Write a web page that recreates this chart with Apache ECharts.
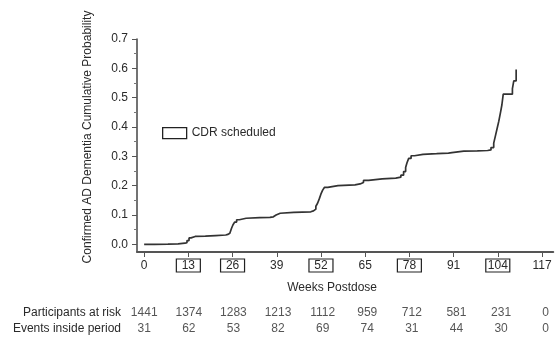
<!DOCTYPE html>
<html>
<head>
<meta charset="utf-8">
<script src="https://cdn.jsdelivr.net/npm/echarts@6/dist/echarts.min.js"></script>
<style>
html,body{margin:0;padding:0;background:#fff;}
#chart{width:557px;height:339px;}
</style>
</head>
<body>
<div id="chart"></div>
<script>
const weekTicks = [0, 13, 26, 39, 52, 65, 78, 91, 104, 117];
const scheduledWeeks = [13, 26, 52, 78, 104];
const probTicks = [0, 0.1, 0.2, 0.3, 0.4, 0.5, 0.6, 0.7];
const probMinorTicks = [0.05, 0.15, 0.25, 0.35, 0.45, 0.55, 0.65];
const riskRows = ['Participants at risk', 'Events inside period'];
const atRisk = [1441, 1374, 1283, 1213, 1112, 959, 712, 581, 231, 0];
const eventsInPeriod = [31, 62, 53, 82, 69, 74, 31, 44, 30, 0];

const curveWeeks = [0, 3, 7, 10, 12, 12.6, 13.2, 13.8, 15, 18, 21, 24, 24.6, 25.2, 25.7, 26.1, 26.6, 27.2, 28, 30, 34, 37, 38, 38.8, 40, 44, 49, 49.8, 50.5, 51, 51.5, 52, 52.5, 53, 54, 57, 62, 63.5, 64.5, 66, 70, 74, 75.5, 76.3, 76.9, 77.3, 77.8, 78.5, 79.5, 82, 86, 89.5, 90.5, 94, 98, 101, 102, 102.8, 103.3, 103.8, 104.3, 104.8, 105.2, 105.6, 108.3, 108.7, 109.4];
const curveProb = [0, 0.001, 0.002, 0.004, 0.006, 0.013, 0.022, 0.027, 0.028, 0.030, 0.032, 0.034, 0.038, 0.044, 0.055, 0.066, 0.076, 0.084, 0.089, 0.091, 0.092, 0.094, 0.100, 0.106, 0.109, 0.111, 0.114, 0.120, 0.130, 0.140, 0.155, 0.172, 0.185, 0.194, 0.200, 0.203, 0.206, 0.211, 0.218, 0.223, 0.226, 0.229, 0.236, 0.248, 0.262, 0.278, 0.293, 0.302, 0.307, 0.309, 0.311, 0.313, 0.318, 0.319, 0.320, 0.322, 0.330, 0.345, 0.370, 0.395, 0.420, 0.450, 0.475, 0.512, 0.531, 0.557, 0.596];

const FONT = "'Liberation Sans', Arial, sans-serif";
const TXT = '#2a2a2a';

const chart = echarts.init(document.getElementById('chart'), null, {renderer: 'canvas'});
const curveData = curveWeeks.map((w, i) => [w, curveProb[i]]);
const tableData = weekTicks.map((w, i) => [w, 0, atRisk[i]])
  .concat(weekTicks.map((w, i) => [w, 1, eventsInPeriod[i]]));

chart.setOption({
  animation: false,
  backgroundColor: '#fff',
  textStyle: {fontFamily: FONT, color: TXT},
  legend: {
    left: 162, top: 127, itemWidth: 24, itemHeight: 11, padding: 0,
    textStyle: {fontSize: 12, color: TXT, fontFamily: FONT},
    data: [{name: 'CDR scheduled', icon: 'rect',
      itemStyle: {color: '#fff', borderColor: '#222', borderWidth: 1.3}}]
  },
  grid: [
    {left: 137, right: 0, top: 39, bottom: 87},
    {left: 137, right: 0, top: 305, height: 32}
  ],
  xAxis: [
    {
      gridIndex: 0, type: 'value', min: -2.1, max: 120.3,
      name: 'Weeks Postdose', nameLocation: 'middle', nameGap: 30,
      nameTextStyle: {fontSize: 12, color: TXT, fontFamily: FONT, padding: [0, 26, 0, 0]},
      axisLine: {show: true, onZero: false, lineStyle: {color: '#555', width: 2}},
      axisTick: {show: true, customValues: weekTicks, length: 5, lineStyle: {color: '#555', width: 1}},
      axisLabel: {
        customValues: weekTicks, margin: 7, fontSize: 12, color: TXT, fontFamily: FONT,
        formatter: v => (scheduledWeeks.indexOf(v) >= 0 ? '{b|' + v + '}' : '{a|' + v + '}'),
        rich: {
          a: {fontSize: 12, color: TXT, fontFamily: FONT, width: 24, height: 12, lineHeight: 13, align: 'center', padding: [1, 0, 0, 0]},
          b: {fontSize: 12, color: TXT, fontFamily: FONT, width: 24, height: 12, lineHeight: 13, align: 'center', padding: [1, 0, 0, 0],
              borderColor: '#222', borderWidth: 1.2}
        }
      },
      splitLine: {show: false}
    },
    {
      gridIndex: 1, type: 'value', min: -2.1, max: 120.3, show: false
    }
  ],
  yAxis: [
    {
      gridIndex: 0, type: 'value', min: -0.026, max: 0.7, position: 'left',
      name: 'Confirmed AD Dementia Cumulative Probability', nameLocation: 'middle', nameRotate: 90, nameGap: 43,
      nameTextStyle: {fontSize: 12, color: TXT, fontFamily: FONT, padding: [0, 0, 0, 17]},
      axisLine: {show: true, onZero: false, lineStyle: {color: '#444', width: 1.5}},
      axisTick: {show: true, customValues: probTicks, length: 5, lineStyle: {color: '#555', width: 1}},
      axisLabel: {customValues: probTicks, margin: 9, fontSize: 12, color: TXT, fontFamily: FONT,
        formatter: v => v.toFixed(1)},
      splitLine: {show: false}
    },
    {
      gridIndex: 0, type: 'value', min: -0.026, max: 0.7, position: 'left', offset: 0,
      axisLine: {show: false, onZero: false},
      axisTick: {show: true, inside: false, customValues: probMinorTicks, length: 3, lineStyle: {color: '#777', width: 1}},
      axisLabel: {show: false},
      splitLine: {show: false}
    },
    {
      gridIndex: 1, type: 'category', data: riskRows, inverse: true,
      axisLine: {show: false}, axisTick: {show: false},
      axisLabel: {margin: 16, fontSize: 12, color: TXT, fontFamily: FONT},
      splitLine: {show: false}
    }
  ],
  series: [
    {
      name: 'KM', type: 'line', step: 'end', xAxisIndex: 0, yAxisIndex: 0,
      data: curveData, showSymbol: false, symbol: 'none',
      lineStyle: {color: '#333', width: 1.7}
    },
    {
      name: 'CDR scheduled', type: 'bar', xAxisIndex: 0, yAxisIndex: 0, data: [],
      itemStyle: {color: '#fff', borderColor: '#222', borderWidth: 1.3}
    },
    {
      name: 'table', type: 'scatter', xAxisIndex: 1, yAxisIndex: 2,
      data: tableData, symbolSize: 1, itemStyle: {color: 'rgba(0,0,0,0)'},
      label: {show: true, position: 'inside', formatter: p => String(p.value[2]),
        fontSize: 12, color: TXT, fontFamily: FONT}
    }
  ]
});
</script>
</body>
</html>
